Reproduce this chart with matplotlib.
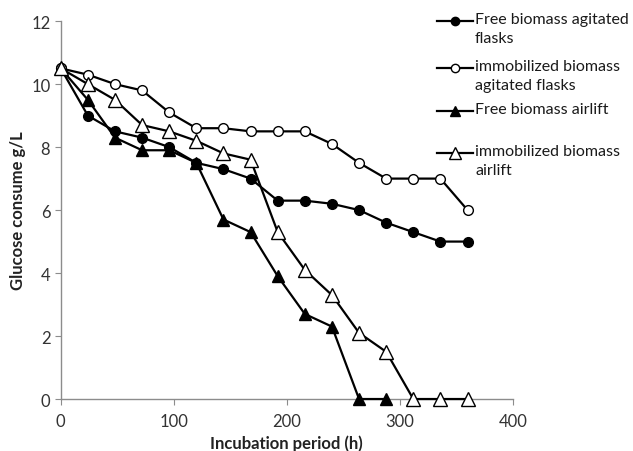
import numpy as np
import matplotlib
matplotlib.use("Agg")
import matplotlib.pyplot as plt
from matplotlib.lines import Line2D

plt.rcParams['font.family'] = ['Lato', 'DejaVu Sans']

# incubation time (h)
hours = [0, 24, 48, 72, 96, 120, 144, 168, 192, 216, 240, 264, 288, 312, 336, 360]
hours_free_airlift = hours[:13]

# glucose (g/L)
free_agitated = [10.5, 9.0, 8.5, 8.3, 8.0, 7.5, 7.3, 7.0, 6.3, 6.3, 6.2, 6.0, 5.6, 5.3, 5.0, 5.0]
immob_agitated = [10.5, 10.3, 10.0, 9.8, 9.1, 8.6, 8.6, 8.5, 8.5, 8.5, 8.1, 7.5, 7.0, 7.0, 7.0, 6.0]
free_airlift = [10.5, 9.5, 8.3, 7.9, 7.9, 7.5, 5.7, 5.3, 3.9, 2.7, 2.3, 0.0, 0.0]
immob_airlift = [10.5, 10.0, 9.5, 8.7, 8.5, 8.2, 7.8, 7.6, 5.3, 4.1, 3.3, 2.1, 1.5, 0.0, 0.0, 0.0]

labels = ["Free biomass agitated\nflasks",
          "immobilized biomass\nagitated flasks",
          "Free biomass airlift",
          "immobilized biomass\nairlift"]

fig = plt.figure(figsize=(6.33, 4.52), dpi=100)
ax = fig.add_axes([0.096, 0.115, 0.714, 0.836])

styles = [
    dict(marker='o', ms=7, mfc='black', mec='black'),
    dict(marker='o', ms=7, mfc='white', mec='black'),
    dict(marker='^', ms=8, mfc='black', mec='black'),
    dict(marker='^', ms=10, mfc='white', mec='black'),
]
series = [(hours, free_agitated), (hours, immob_agitated),
          (hours_free_airlift, free_airlift), (hours, immob_airlift)]

for (x, y), st in zip(series, styles):
    ax.plot(x, y, color='black', lw=1.6, mew=1.0, clip_on=False, zorder=3, **st)

ax.set_xlim(0, 400)
ax.set_ylim(0, 12)
ax.set_xticks([0, 100, 200, 300, 400])
ax.set_yticks([0, 2, 4, 6, 8, 10, 12])
for s in ['top', 'right']:
    ax.spines[s].set_visible(False)
for s in ['left', 'bottom']:
    ax.spines[s].set_color('#8c8c8c')
    ax.spines[s].set_linewidth(1.0)
ax.tick_params(axis='both', colors='#8c8c8c', labelcolor='#333333', labelsize=12,
               length=4, direction='out')
ax.tick_params(axis='x', pad=6)
ax.set_xlabel("Incubation period (h)", fontsize=12, fontweight='bold', color='#222222', labelpad=4)
ax.set_ylabel("Glucose consume g/L", fontsize=12, fontweight='bold', color='#222222', labelpad=4)

# legend drawn by hand so the handle sits on the first text line
row_y = [22, 69, 112, 154]
leg_ms = [6, 6, 7, 8]
for lab, st, ms, yp in zip(labels, styles, leg_ms, row_y):
    yf = 1 - yp / 452
    fig.add_artist(Line2D([437 / 633, 473 / 633], [yf, yf], color='black', lw=1.6,
                          transform=fig.transFigure))
    st2 = dict(st, ms=ms)
    fig.add_artist(Line2D([455 / 633], [yf], color='black', mew=1.0,
                          transform=fig.transFigure, **st2))
    fig.text(475 / 633, yf + 9 / 452, lab, fontsize=11.5, color='#1a1a1a', va='top',
             ha='left', linespacing=1.45, transform=fig.transFigure)

fig.savefig("out.png", dpi=100)
